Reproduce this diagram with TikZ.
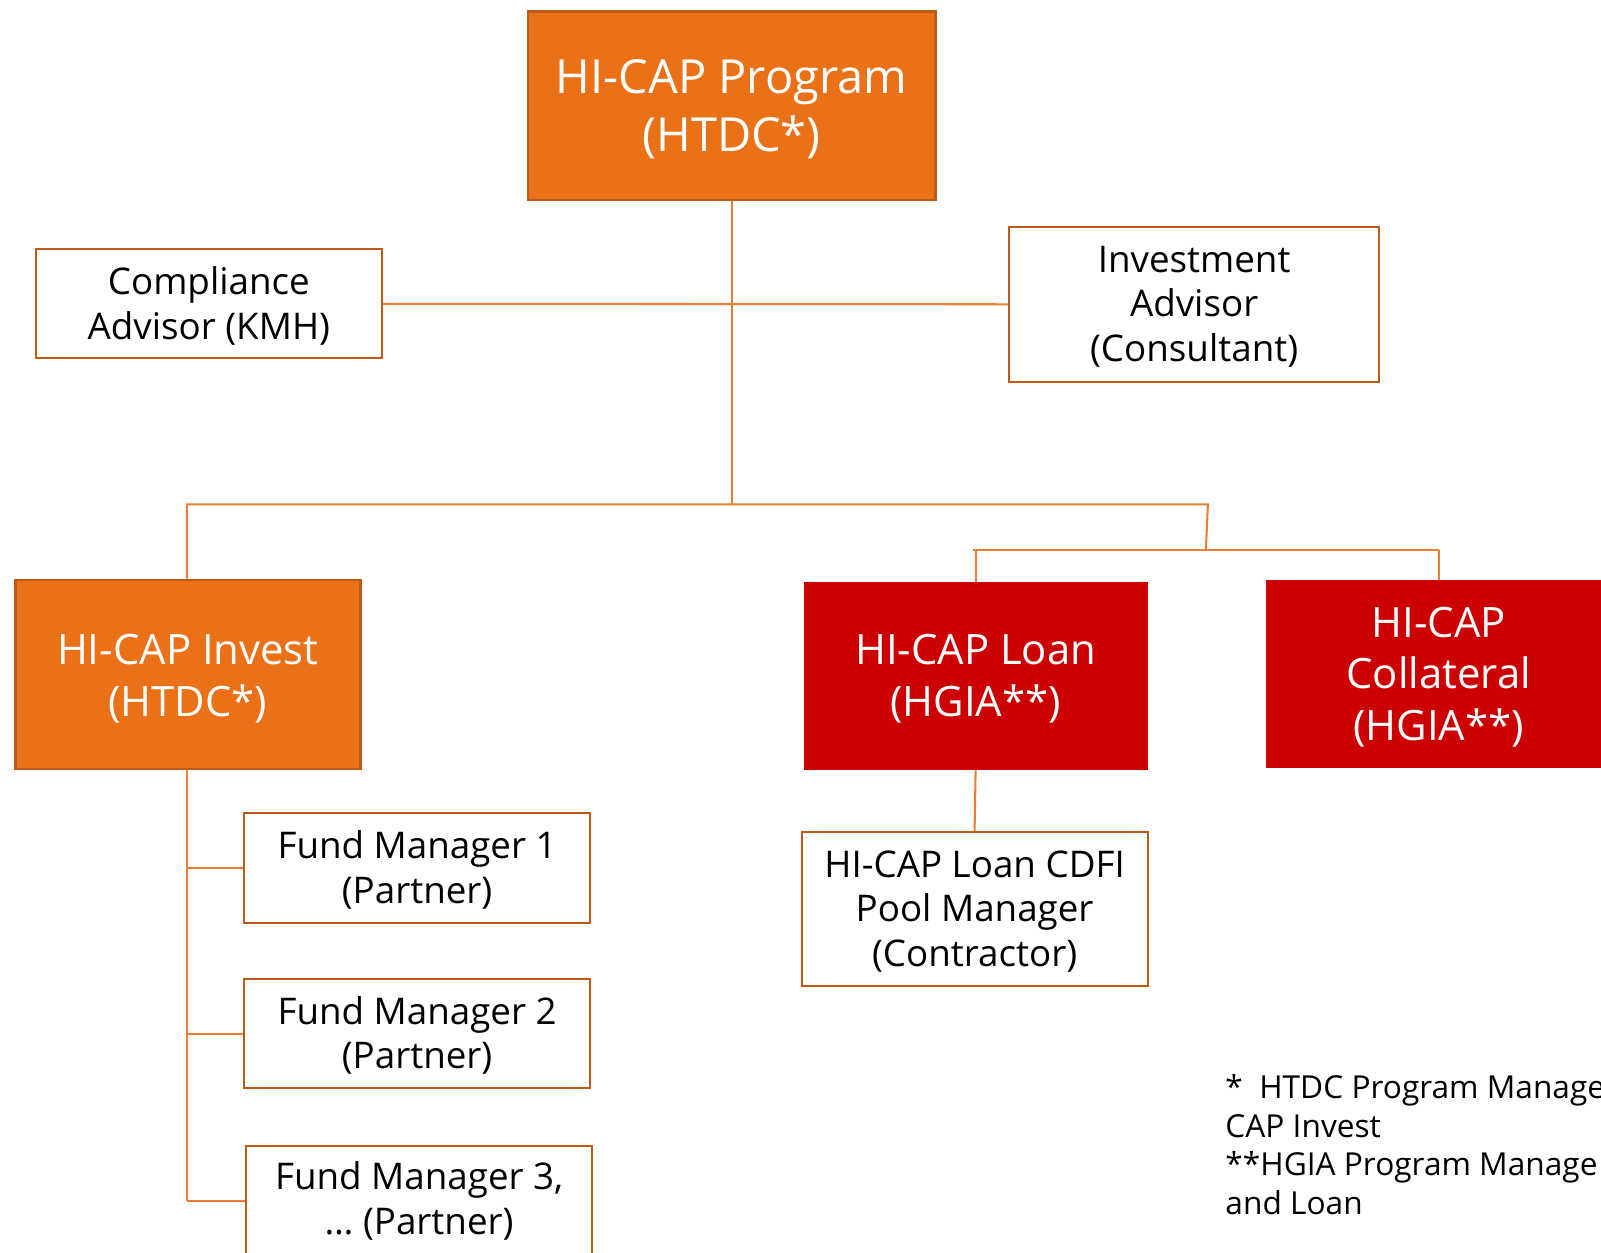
\documentclass[tikz,border=0pt]{standalone}
\usepackage{fontspec}
\setmainfont{Open Sans}
\definecolor{ofill}{HTML}{EB7118}
\definecolor{oborder}{HTML}{BE5A14}
\definecolor{oline}{HTML}{ED7D31}
\definecolor{rfill}{HTML}{CC0000}
\newcommand\boxtxt[2]{\raisebox{#1}[\height][\depth]{\begin{tabular}{@{}c@{}}#2\end{tabular}}}
\tikzset{
  obox/.style={draw=oborder, line width=2.5pt, fill=ofill, text=white, inner sep=0pt, rectangle},
  rbox/.style={draw=none, fill=rfill, text=white, inner sep=0pt, rectangle},
  wbox/.style={draw=oborder, line width=2pt, fill=white, text=black, inner sep=0pt, rectangle,
     font=\fontsize{36}{43.7}\selectfont},
  conn/.style={draw=oline, line width=2pt},
  bigfont/.style={font=\fontsize{46}{57}\selectfont},
  midfont/.style={font=\fontsize{41}{50.5}\selectfont}
}
\begin{document}
\begin{tikzpicture}[x=1pt,y=-1pt]
\useasboundingbox (0,0) rectangle (1568,1227);
% nodes
\node[obox, bigfont, minimum width=399, minimum height=185] (top) at (716.5,103.5) {\boxtxt{-5pt}{HI-CAP Program\\(HTDC*)}};
\node[wbox, minimum width=339, minimum height=107] (comp) at (204.5,297.5) {\boxtxt{-4pt}{Compliance\\Advisor (KMH)}};
\node[wbox, minimum width=363, minimum height=152] (invadv) at (1169.5,298) {\boxtxt{-3.5pt}{Investment\\Advisor\\(Consultant)}};
\node[obox, midfont, minimum width=338, minimum height=185] (invest) at (184,660.5) {\boxtxt{-5.5pt}{HI-CAP Invest\\(HTDC*)}};
\node[rbox, midfont, minimum width=337, minimum height=184] (loan) at (955.5,662) {\boxtxt{-4pt}{HI-CAP Loan\\(HGIA**)}};
\node[rbox, midfont, minimum width=338, minimum height=184] (coll) at (1409,660) {\boxtxt{-4.5pt}{HI-CAP\\Collateral\\(HGIA**)}};
\node[wbox, minimum width=339, minimum height=151] (pool) at (954.5,890.5) {\boxtxt{-3.5pt}{HI-CAP Loan CDFI\\Pool Manager\\(Contractor)}};
\node[wbox, minimum width=339, minimum height=108] (fm1) at (408.5,850) {\boxtxt{-4pt}{Fund Manager 1\\(Partner)}};
\node[wbox, minimum width=339, minimum height=107] (fm2) at (408.5,1012.5) {\boxtxt{-3.5pt}{Fund Manager 2\\(Partner)}};
\node[wbox, minimum width=339, minimum height=108] (fm3) at (410.5,1176) {\boxtxt{-2.5pt}{Fund Manager 3,\\\dots\ (Partner)}};
\node[anchor=north west, inner sep=0pt, align=left, font=\fontsize{31}{37.8}\selectfont] (note) at (1200,1052)
  {*\ \ HTDC Program Manage\\CAP Invest\\**HGIA Program Manage\\and Loan};
% bus coordinates
\coordinate (b1) at (183,494);
\coordinate (b2) at (1183,494);
\coordinate (b3) at (1181,539);
\coordinate (b4l) at (953,539);
\coordinate (b4r) at (1409,539);
\coordinate (sp) at (183,753);
% connectors
\draw[conn] (comp.east) -- (invadv.west);
\draw[conn] (top.south) -- (top.south |- b1);
\draw[conn] (invest.north -| b1) -- (b1) -- (b2) -- (b3);
\draw[conn] (b4l) -- (b4r);
\draw[conn] (loan.north) -- (loan.north |- b4l);
\draw[conn] (coll.north) -- (coll.north |- b4r);
\draw[conn] (loan.south) -- (pool.north);
\draw[conn] (sp) -- (sp |- fm3.west);
\draw[conn] (sp |- fm1.west) -- (fm1.west);
\draw[conn] (sp |- fm2.west) -- (fm2.west);
\draw[conn] (sp |- fm3.west) -- (fm3.west);
\end{tikzpicture}
\end{document}
